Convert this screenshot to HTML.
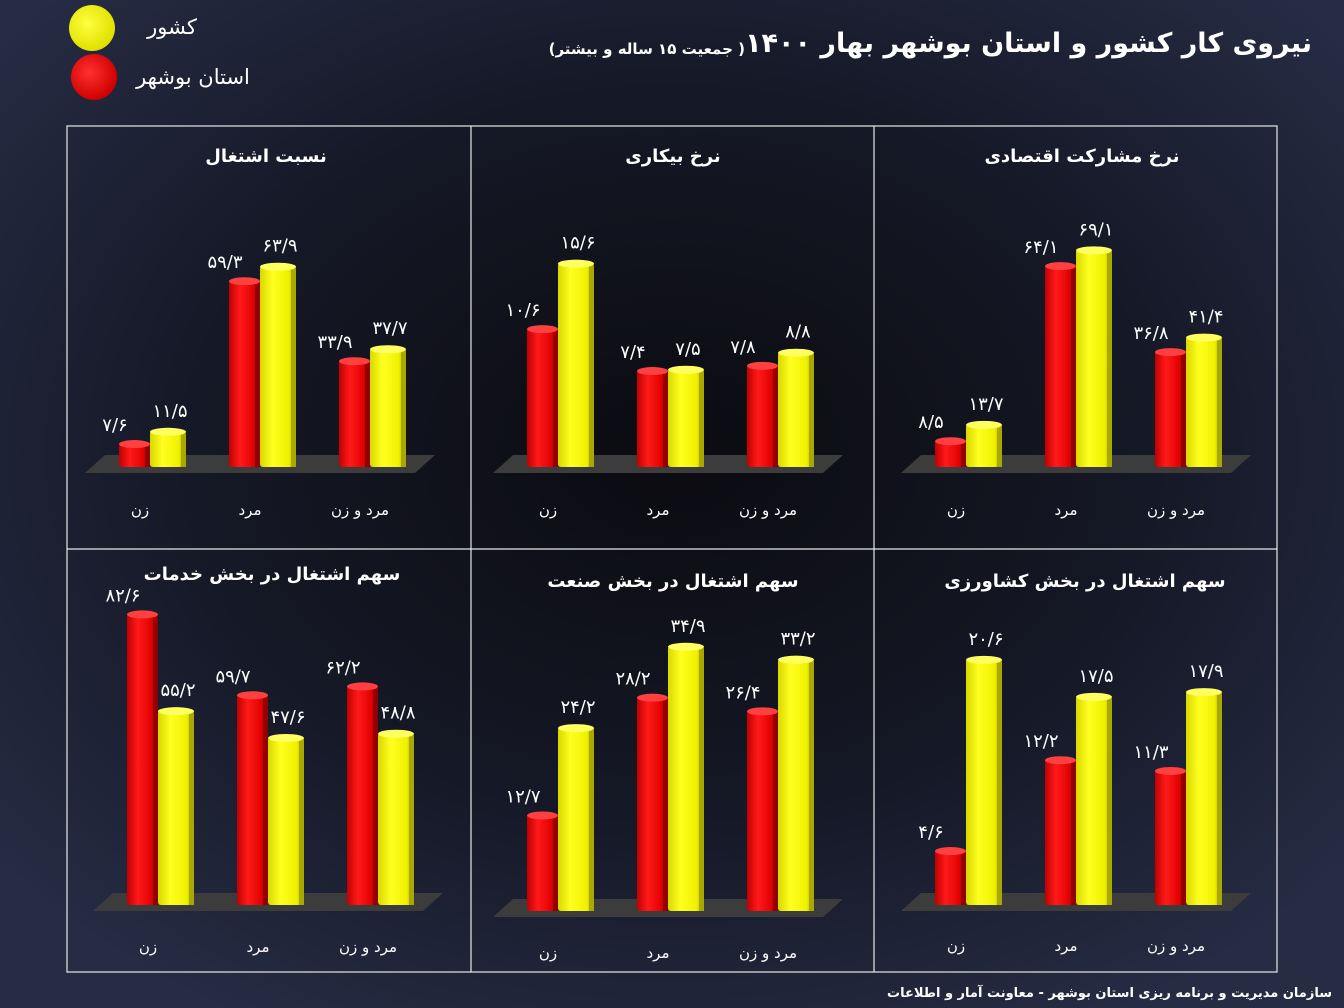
<!DOCTYPE html>
<html><head><meta charset="utf-8">
<style>
html,body{margin:0;padding:0;width:1344px;height:1008px;overflow:hidden;background:#1c2133;}
svg{display:block;font-family:"DejaVu Sans","Liberation Sans",sans-serif;}
</style></head>
<body>
<svg id="chart" width="1344" height="1008" viewBox="0 0 1344 1008">
<defs>
<radialGradient id="bg" cx="50%" cy="45%" r="65%">
<stop offset="0" stop-color="#0b0b10"/><stop offset="0.55" stop-color="#151826"/><stop offset="1" stop-color="#262c44"/>
</radialGradient>
<linearGradient id="gRed" x1="0" x2="1" y1="0" y2="0">
<stop offset="0" stop-color="#c00000"/><stop offset="0.35" stop-color="#ff1a1a"/><stop offset="0.8" stop-color="#e00000"/><stop offset="1" stop-color="#8a0000"/>
</linearGradient>
<linearGradient id="gYel" x1="0" x2="1" y1="0" y2="0">
<stop offset="0" stop-color="#d8d800"/><stop offset="0.35" stop-color="#ffff20"/><stop offset="0.8" stop-color="#f0f000"/><stop offset="1" stop-color="#9a9a00"/>
</linearGradient>
<radialGradient id="cRed" cx="40%" cy="40%" r="60%"><stop offset="0" stop-color="#ff3030"/><stop offset="1" stop-color="#d00000"/></radialGradient>
<radialGradient id="cYel" cx="40%" cy="40%" r="60%"><stop offset="0" stop-color="#ffff40"/><stop offset="1" stop-color="#e0e000"/></radialGradient>
</defs>
<rect x="0" y="0" width="1344" height="1008" fill="url(#bg)"/>

<text x="1312" y="52" direction="rtl" text-anchor="start" fill="#fff" font-size="27" font-weight="bold">نیروی کار کشور و استان بوشهر بهار ۱۴۰۰</text>
<text x="745" y="54" direction="rtl" text-anchor="start" fill="#fff" font-size="15" font-weight="bold">( جمعیت ۱۵ ساله و بیشتر)</text>

<circle cx="92" cy="28" r="23" fill="url(#cYel)"/>
<text x="172" y="34" text-anchor="middle" fill="#fff" font-size="21">کشور</text>
<circle cx="94" cy="77" r="23" fill="url(#cRed)"/>
<text x="193" y="84" text-anchor="middle" fill="#fff" font-size="21">استان بوشهر</text>

<g fill="none" stroke="#e8e8e8" stroke-width="1.2">
<rect x="67" y="126" width="1210" height="846"/>
<line x1="471" y1="126" x2="471" y2="972"/><line x1="874" y1="126" x2="874" y2="972"/>
<line x1="67" y1="549" x2="1277" y2="549"/>
</g>
<g id="panels"></g>
<text x="1332" y="997" direction="rtl" text-anchor="start" fill="#fff" font-size="13" font-weight="bold">سازمان مدیریت و برنامه ریزی استان بوشهر - معاونت آمار و اطلاعات</text>
</svg>
<script>
const categories = ["زن", "مرد", "مرد و زن"];
const titles = ["نسبت اشتغال", "نرخ بیکاری", "نرخ مشارکت اقتصادی", "سهم اشتغال در بخش خدمات", "سهم اشتغال در بخش صنعت", "سهم اشتغال در بخش کشاورزی"];
const bushehrValues = [[7.6, 59.3, 33.9], [10.6, 7.4, 7.8], [8.5, 64.1, 36.8], [82.6, 59.7, 62.2], [12.7, 28.2, 26.4], [4.6, 12.2, 11.3]];
const countryValues = [[11.5, 63.9, 37.7], [15.6, 7.5, 8.8], [13.7, 69.1, 41.4], [55.2, 47.6, 48.8], [24.2, 34.9, 33.2], [20.6, 17.5, 17.9]];
const layouts = [
 {cx0:150, base:467, scale:3.15, titleX:266, titleY:162, labY:515},
 {cx0:558, base:467, scale:13.1, titleX:673, titleY:162, labY:515},
 {cx0:966, base:467, scale:3.15, titleX:1082, titleY:162, labY:515},
 {cx0:158, base:905, scale:3.53, titleX:272, titleY:580, labY:952},
 {cx0:558, base:911, scale:7.6, titleX:673, titleY:587, labY:958},
 {cx0:966, base:905, scale:11.95, titleX:1085, titleY:587, labY:951}
];
const NS = "http://www.w3.org/2000/svg";
const root = document.getElementById("panels");
function fa(v){return v.toFixed(1).replace(".0","").replace(".","/").replace(/[0-9]/g,d=>"۰۱۲۳۴۵۶۷۸۹"[d]);}
function mk(tag, attrs, parent){const e=document.createElementNS(NS,tag);for(const k in attrs)e.setAttribute(k,attrs[k]);parent.appendChild(e);return e;}
function yOf(L,v){return L.base - v*L.scale;}
function bar(g,x,w,L,v,fill,cap,side){
  const top=yOf(L,v);
  const b=mk("g",{},g);
  mk("rect",{x:x,y:top,width:w,height:L.base-top,rx:3,fill:fill},b);
  mk("rect",{x:x+w-5,y:top+4,width:5,height:L.base-top-4,fill:side},b);
  mk("ellipse",{cx:x+w/2,cy:top+1,rx:w/2,ry:4,fill:cap},b);
  return b;
}
layouts.forEach((L,p)=>{
  const g=mk("g",{},root);
  
  
  const t=mk("text",{x:L.titleX,y:L.titleY,"text-anchor":"middle",fill:"#fff","font-size":18,"font-weight":"bold"},g);
  t.textContent=titles[p];
  
  
  const x0=L.cx0-65, x1=L.cx0+285;
  const fl=mk("polygon",{points:`${x0},${L.base+6} ${x1-20},${L.base+6} ${x1},${L.base-12} ${x0+20},${L.base-12}`,fill:"#3c3c3c"},g);
  
  
  categories.forEach((c,i)=>{
    const cx=L.cx0+i*110;
    const rb=bar(g,cx-31,31,L,bushehrValues[p][i],"url(#gRed)","#ff4040","#900000");
    
    
    const yb=bar(g,cx,36,L,countryValues[p][i],"url(#gYel)","#ffff60","#a8a800");
    
    
    const rl=mk("text",{x:cx-35,y:yOf(L,bushehrValues[p][i])-12,"text-anchor":"middle",fill:"#fff","font-size":18},g);
    rl.textContent=fa(bushehrValues[p][i]);
    
    
    const yl=mk("text",{x:cx+20,y:yOf(L,countryValues[p][i])-14,"text-anchor":"middle",fill:"#fff","font-size":18},g);
    yl.textContent=fa(countryValues[p][i]);
    
    
    const cl=mk("text",{x:cx-10,y:L.labY,"text-anchor":"middle",fill:"#fff","font-size":15},g);
    cl.textContent=c;
    
    
  });
});
</script>
</body></html>
